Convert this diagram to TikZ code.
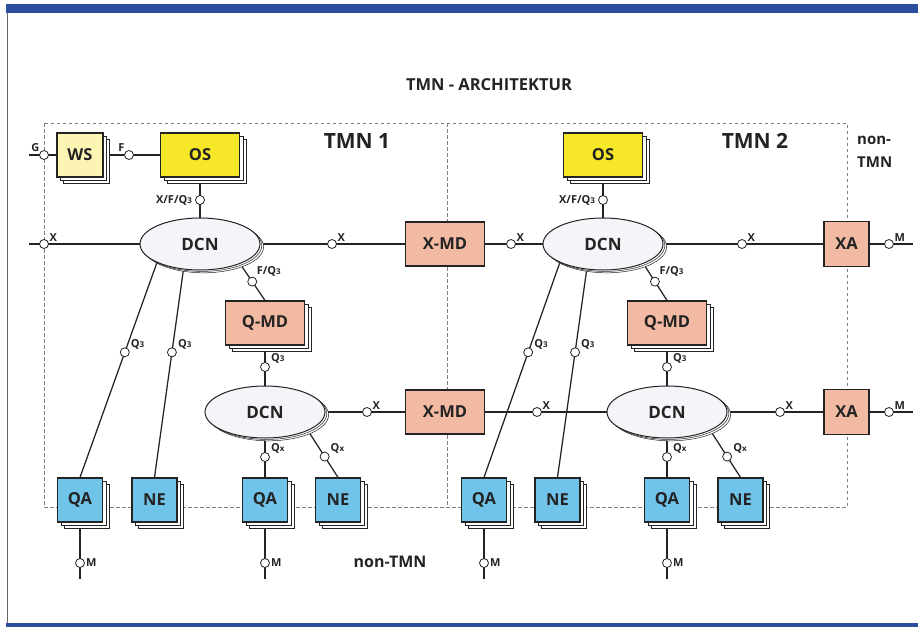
\documentclass[tikz,border=0pt]{standalone}
\usepackage{fontspec}
\setmainfont{Open Sans}
\usetikzlibrary{shapes.geometric,shadows,backgrounds,calc}
\definecolor{osyel}{RGB}{246,232,40}
\definecolor{wsyel}{RGB}{252,244,178}
\definecolor{salmon}{RGB}{242,186,162}
\definecolor{qablue}{RGB}{112,196,234}
\definecolor{barblue}{RGB}{44,78,158}
\definecolor{ink}{RGB}{35,35,35}
\definecolor{dcnfill}{RGB}{244,245,248}
\newcommand{\sm}[1]{{\fontsize{8}{9}\selectfont #1}}
\tikzset{
  every node/.style={font=\bfseries, text=ink},
  box/.style={draw=ink, line width=1.2pt, minimum width=79pt, minimum height=44pt,
    inner sep=0pt, font=\bfseries\fontsize{16.5}{18}\selectfont},
  smallbox/.style={box, minimum width=45pt, minimum height=44pt},
  stack/.style={double copy shadow={shadow xshift=3.3pt, shadow yshift=-3.3pt,
    fill=white, draw=ink, line width=0.6pt}},
  dcn/.style={ellipse, draw=ink, line width=1pt, fill=dcnfill, minimum width=120pt,
    minimum height=52pt, inner sep=0pt, font=\bfseries\fontsize{17}{18}\selectfont,
    double copy shadow={shadow xshift=1.8pt, shadow yshift=-1.4pt, fill=white, draw=ink, line width=0.5pt}},
  iface/.style={circle, draw=ink, fill=white, line width=0.8pt, minimum size=9pt, inner sep=0pt},
  lab/.style={font=\bfseries\fontsize{11}{12}\selectfont, inner sep=1pt},
  conn/.style={draw=ink, line width=1.25pt},
  frame/.style={draw=black!50, line width=0.7pt, dash pattern=on 3.5pt off 2.5pt},
  big/.style={font=\bfseries\fontsize{21}{24}\selectfont},
}
\begin{document}
\begin{tikzpicture}[x=1pt,y=-1pt]
\useasboundingbox (0,0) rectangle (918,627);
% page decoration
\fill[barblue] (6,4) rectangle (918,12.5);
\fill[barblue] (6,623) rectangle (918,627);
\draw[black!60, line width=1pt] (7.3,12.5) -- (7.3,623);

\node[font=\bfseries\fontsize{16.5}{18}\selectfont] (title) at (489,85) {TMN - ARCHITEKTUR};
\node[big] (tmn1) at (357,141) {TMN 1};
\node[big] (tmn2) at (755,141) {TMN 2};
\node[font=\bfseries\fontsize{15}{23}\selectfont, align=left, anchor=west, inner sep=0pt] (ntmn1) at (857,152) {non-\\TMN};
\node[font=\bfseries\fontsize{16}{18}\selectfont] (ntmn2) at (390,562) {non-TMN};

% free ends
\coordinate (gend) at (29,155);
\coordinate (xend) at (29,244);
\coordinate (m1end) at (913,244);
\coordinate (m2end) at (913,412);
\coordinate (d1a) at (163.6,244);
\coordinate (d1b) at (187,244);
\coordinate (d2a) at (566.4,244);
\coordinate (d2b) at (590.3,244);
\coordinate (f1) at (228,246);
\coordinate (f2) at (632,246);
\coordinate (e1) at (296,412);
\coordinate (e2) at (698.5,412);
\coordinate (mb1end) at (80,579);
\coordinate (mb2end) at (265,579);
\coordinate (mb3end) at (484,579);
\coordinate (mb4end) at (667,579);

% main nodes
\node[box, fill=wsyel, stack, minimum width=46pt] (ws) at (80,155) {WS};
\node[box, fill=osyel, stack] (os1) at (200,155) {OS};
\node[box, fill=osyel, stack] (os2) at (603,155) {OS};
\node[dcn] (dcn1) at (200,244) {DCN};
\node[dcn] (dcn2) at (603,244) {DCN};
\node[box, fill=salmon] (xmd1) at (445,244) {X-MD};
\node[smallbox, fill=salmon, minimum height=45pt] (xa1) at (846.5,244) {XA};
\node[box, fill=salmon, stack] (qmd1) at (265,323) {Q-MD};
\node[box, fill=salmon, stack] (qmd2) at (667,323) {Q-MD};
\node[dcn] (dcn3) at (265,412) {DCN};
\node[dcn] (dcn4) at (667,412) {DCN};
\node[box, fill=salmon] (xmd2) at (445,412) {X-MD};
\node[smallbox, fill=salmon, minimum height=45pt] (xa2) at (846.5,412) {XA};
\node[smallbox, fill=qablue, stack] (qa1) at (80,500) {QA};
\node[smallbox, fill=qablue, stack] (ne1) at (154.5,500) {NE};
\node[smallbox, fill=qablue, stack] (qa2) at (265,500) {QA};
\node[smallbox, fill=qablue, stack] (ne2) at (338,500) {NE};
\node[smallbox, fill=qablue, stack] (qa3) at (484,500) {QA};
\node[smallbox, fill=qablue, stack] (ne3) at (557.5,500) {NE};
\node[smallbox, fill=qablue, stack] (qa4) at (667,500) {QA};
\node[smallbox, fill=qablue, stack] (ne4) at (740.5,500) {NE};

% interface points
\node[iface] (cg) at (44,155) {};
\node[iface] (cf) at (129,155) {};
\node[iface] (cxfq1) at (200,200) {};
\node[iface] (cxfq2) at (603,200) {};
\node[iface] (cxl) at (44,244) {};
\node[iface] (cx1) at (332,244) {};
\node[iface] (cx2) at (511,244) {};
\node[iface] (cx3) at (742,244) {};
\node[iface] (cm1) at (889,244) {};
\node[iface] (cq1) at ($(qa1.north)!0.536!(d1a)$) {};
\node[iface] (cq2) at ($(ne1.north)!0.536!(d1b)$) {};
\node[iface] (cq3) at ($(qa3.north)!0.536!(d2a)$) {};
\node[iface] (cq4) at ($(ne3.north)!0.536!(d2b)$) {};
\node[iface] (cfq1) at ($(qmd1.north)!0.345!(f1)$) {};
\node[iface] (cfq2) at ($(qmd2.north)!0.345!(f2)$) {};
\node[iface] (cq5) at (265,367) {};
\node[iface] (cq6) at (667,367) {};
\node[iface] (cx4) at (367,412) {};
\node[iface] (cx5) at (537,412) {};
\node[iface] (cx6) at (780,412) {};
\node[iface] (cm2) at (889,412) {};
\node[iface] (cqx1) at (265,457) {};
\node[iface] (cqx2) at ($(ne2.north)!0.318!(e1)$) {};
\node[iface] (cqx3) at (667,457) {};
\node[iface] (cqx4) at ($(ne4.north)!0.318!(e2)$) {};
\node[iface] (cmb1) at (80,563) {};
\node[iface] (cmb2) at (265,563) {};
\node[iface] (cmb3) at (484,563) {};
\node[iface] (cmb4) at (667,563) {};

% labels
\node[lab, anchor=south east] at ([yshift=-1pt]cg.north west) {G};
\node[lab, anchor=south east] at ([yshift=-1pt]cf.north west) {F};
\node[lab, anchor=east] at ([xshift=-2pt]cxfq1.west) {X/F/Q\sm{3}};
\node[lab, anchor=east] at ([xshift=-2pt]cxfq2.west) {X/F/Q\sm{3}};
\foreach \c/\t in {cxl/X, cx1/X, cx2/X, cx3/X, cm1/M, cx4/X, cx5/X, cx6/X, cm2/M}
  \node[lab, anchor=south west] at ([xshift=1pt,yshift=-2pt]\c.north east) {\t};
\foreach \c in {cq1,cq2,cq3,cq4,cq5,cq6}
  \node[lab, anchor=south west] at ([yshift=2pt]\c.east) {Q\sm{3}};
\foreach \c in {cfq1,cfq2}
  \node[lab, anchor=south west] at ([yshift=1pt]\c.north east) {F/Q\sm{3}};
\foreach \c in {cqx1,cqx2,cqx3,cqx4}
  \node[lab, anchor=south west] at ([yshift=2pt]\c.east) {Q\sm{x}};
\foreach \c in {cmb1,cmb2,cmb3,cmb4}
  \node[lab, anchor=west] at (\c.east) {M};

\begin{scope}[on background layer]
  \draw[frame] (44,123) rectangle (847,507);
  \draw[frame] (447,123) -- (447,507);
  \draw[conn] (gend) -- (ws);
  \draw[conn] (ws) -- (os1);
  \draw[conn] (os1) -- (dcn1);
  \draw[conn] (os2) -- (dcn2);
  \draw[conn] (xend) -- (dcn1);
  \draw[conn] (dcn1) -- (xmd1);
  \draw[conn] (xmd1) -- (dcn2);
  \draw[conn] (dcn2) -- (xa1);
  \draw[conn] (xa1) -- (m1end);
  \draw[conn] (qa1.north) -- (d1a);
  \draw[conn] (ne1.north) -- (d1b);
  \draw[conn] (qa3.north) -- (d2a);
  \draw[conn] (ne3.north) -- (d2b);
  \draw[conn] (qmd1.north) -- (f1);
  \draw[conn] (qmd2.north) -- (f2);
  \draw[conn] (qmd1) -- (dcn3);
  \draw[conn] (qmd2) -- (dcn4);
  \draw[conn] (dcn3) -- (xmd2);
  \draw[conn] (xmd2) -- (dcn4);
  \draw[conn] (dcn4) -- (xa2);
  \draw[conn] (xa2) -- (m2end);
  \draw[conn] (dcn3) -- (qa2);
  \draw[conn] (dcn4) -- (qa4);
  \draw[conn] (ne2.north) -- (e1);
  \draw[conn] (ne4.north) -- (e2);
  \draw[conn] (qa1) -- (mb1end);
  \draw[conn] (qa2) -- (mb2end);
  \draw[conn] (qa3) -- (mb3end);
  \draw[conn] (qa4) -- (mb4end);
\end{scope}
\end{tikzpicture}
\end{document}
